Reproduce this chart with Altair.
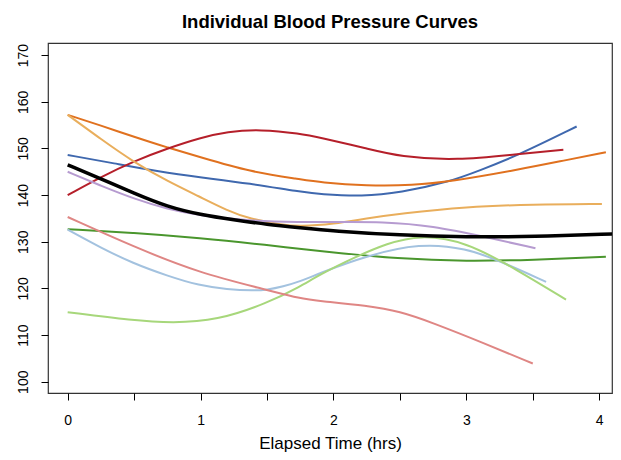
import altair as alt
import pandas as pd

series_names = ["blue", "orange", "red", "lightorange", "purple",
                "green", "lightblue", "lightgreen", "pink"]
series_colors = ["#3F68AE", "#E0711F", "#B51F2A", "#E9AE5C", "#B69BD0",
                 "#4A962D", "#A3C2DF", "#A7D77B", "#DF8684"]

blue_x = [0, 0.35, 0.69, 1.0, 1.37, 1.75, 1.9, 2.22, 2.5, 2.88, 3.1, 3.38, 3.83]
blue_y = [148.6, 146.8, 145.0, 143.8, 142.5, 140.7, 140.2, 139.7, 140.5, 142.9, 145.3, 148.4, 154.7]

orange_x = [0, 0.25, 0.5, 0.75, 1.0, 1.37, 1.75, 1.9, 2.25, 2.6, 2.88, 3.38, 3.7, 4.05]
orange_y = [157.2, 154.9, 152.5, 150.2, 148.1, 145.0, 143.4, 142.7, 142.0, 142.1, 142.9, 145.4, 147.2, 149.2]

red_x = [0, 0.25, 0.5, 0.75, 1.0, 1.2, 1.45, 1.75, 1.9, 2.25, 2.5, 2.93, 3.38, 3.73]
red_y = [140.0, 143.9, 147.3, 150.0, 152.3, 153.6, 154.1, 153.2, 152.3, 150.0, 148.2, 147.4, 148.8, 149.7]

lorange_x = [0, 0.25, 0.49, 0.75, 0.99, 1.2, 1.37, 1.62, 1.75, 2.0, 2.25, 2.5, 3.0, 3.5, 4.02]
lorange_y = [157.2, 152.0, 147.2, 143.0, 139.7, 136.7, 134.9, 133.6, 133.3, 133.8, 135.0, 136.0, 137.5, 138.0, 138.1]

purple_x = [0, 0.25, 0.5, 0.75, 1.0, 1.37, 1.75, 2.0, 2.37, 2.75, 3.13, 3.52]
purple_y = [145.0, 142.0, 139.2, 137.0, 135.6, 134.5, 134.2, 134.2, 134.3, 133.4, 131.1, 128.6]

green_x = [0, 0.5, 0.99, 1.5, 1.9, 2.5, 3.0, 3.5, 4.05]
green_y = [132.7, 131.9, 130.8, 129.3, 128.0, 126.3, 125.8, 126.1, 126.8]

lblue_x = [0, 0.25, 0.49, 0.75, 0.99, 1.2, 1.4, 1.5, 1.62, 1.75, 1.9, 2.25, 2.65, 3.0, 3.25, 3.6]
lblue_y = [132.6, 128.7, 125.4, 122.7, 120.6, 119.8, 119.5, 119.7, 120.4, 121.5, 123.3, 127.0, 129.7, 128.6, 125.9, 121.4]

lgreen_x = [0, 0.49, 0.79, 1.12, 1.5, 1.75, 1.9, 2.17, 2.4, 2.65, 3.0, 3.38, 3.75]
lgreen_y = [114.9, 113.1, 112.6, 113.1, 116.8, 120.4, 123.0, 126.8, 129.6, 131.5, 130.0, 124.0, 117.6]

pink_x = [0, 0.49, 0.99, 1.5, 1.75, 1.9, 2.25, 2.5, 2.75, 3.13, 3.5]
pink_y = [135.3, 129.0, 123.3, 119.7, 117.8, 117.3, 116.3, 115.1, 112.6, 108.3, 103.9]

mean_x = [0, 0.25, 0.5, 0.75, 1.0, 1.25, 1.5, 1.75, 2.0, 2.5, 3.0, 3.5, 4.12]
mean_y = [146.5, 143.5, 140.4, 137.5, 135.8, 134.7, 133.7, 133.0, 132.3, 131.4, 131.0, 131.1, 131.7]

all_x = [blue_x, orange_x, red_x, lorange_x, purple_x, green_x, lblue_x, lgreen_x, pink_x]
all_y = [blue_y, orange_y, red_y, lorange_y, purple_y, green_y, lblue_y, lgreen_y, pink_y]

rows = []
for name, xs, ys in zip(series_names, all_x, all_y):
    for xv, yv in zip(xs, ys):
        rows.append({"series": name, "time": xv, "bp": yv})
df = pd.DataFrame(rows)
mean_df = pd.DataFrame({"time": mean_x, "bp": mean_y})

FONT = "Liberation Sans"

xscale = alt.Scale(domain=[-0.148, 4.096], nice=False, zero=False)
yscale = alt.Scale(domain=[97.58, 172.6], nice=False, zero=False)

xaxis = alt.Axis(
    title="Elapsed Time (hrs)", values=[0, 0.5, 1, 1.5, 2, 2.5, 3, 3.5, 4],
    labelExpr="datum.value % 1 == 0 ? format(datum.value, 'd') : ''",
    grid=False, domain=False, tickSize=7, tickColor="#000", tickWidth=1,
    labelFontSize=14, labelFont=FONT, labelColor="#000", labelPadding=13,
    titleFontSize=17, titleFont=FONT, titleColor="#000", titleFontWeight="normal",
    titleBaseline="alphabetic", titleY=55,
)
yaxis = alt.Axis(
    title=None, values=[100, 110, 120, 130, 140, 150, 160, 170],
    grid=False, domain=False, tickSize=7, tickColor="#000", tickWidth=1,
    labelFontSize=14, labelFont=FONT, labelColor="#000", labelPadding=14,
    labelAngle=270, labelAlign="center", labelBaseline="alphabetic",
)

lines = alt.Chart(df).mark_line(strokeWidth=2, interpolate="basis", clip=True).encode(
    x=alt.X("time:Q", scale=xscale, axis=xaxis),
    y=alt.Y("bp:Q", scale=yscale, axis=yaxis),
    color=alt.Color("series:N", scale=alt.Scale(domain=series_names, range=series_colors), legend=None),
    detail="series:N",
)

mean_line = alt.Chart(mean_df).mark_line(strokeWidth=3.5, color="#000", interpolate="basis", clip=True).encode(
    x=alt.X("time:Q", scale=xscale),
    y=alt.Y("bp:Q", scale=yscale),
)

chart = alt.layer(lines, mean_line).properties(
    width=564, height=350,
    title=alt.TitleParams("Individual Blood Pressure Curves", fontSize=18.5, fontWeight="bold",
                          font=FONT, color="#000", anchor="middle", baseline="bottom", offset=11, dy=18),
    autosize=alt.AutoSizeParams(type="none"),
    padding={"left": 40, "top": 35, "right": 1, "bottom": 59},
).configure_view(stroke="#333", strokeWidth=1.2)

chart.save("out.html", embed_options={"renderer": "svg", "actions": False})
